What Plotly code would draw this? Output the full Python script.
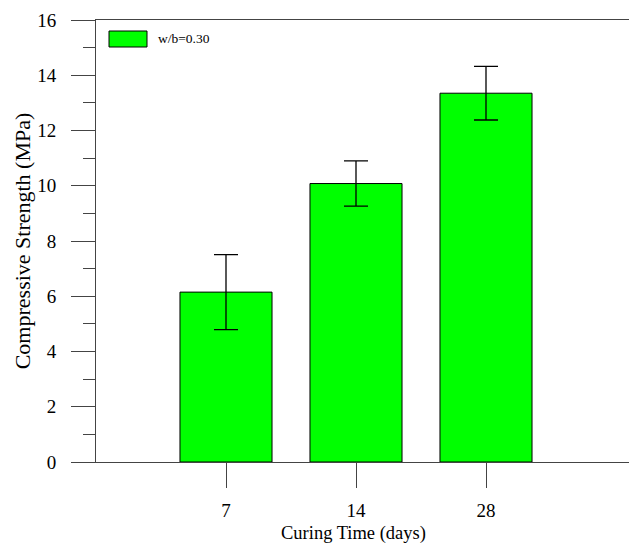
import plotly.graph_objects as go

categories = ["7", "14", "28"]
strength = [6.15, 10.08, 13.35]
err = [1.36, 0.82, 0.97]
series_name = "w/b=0.30"
x_title = "Curing Time (days)"
y_title = "Compressive Strength (MPa)"
y_ticks = [0, 2, 4, 6, 8, 10, 12, 14, 16]

xpos = [1, 2, 3]

fig = go.Figure()
fig.add_trace(go.Bar(
    x=xpos, y=strength, name=series_name, showlegend=False,
    marker=dict(color="#00FF00", line=dict(color="#000000", width=1)),
    error_y=dict(type="data", array=err, visible=True, color="#000000",
                 thickness=1.3, width=12),
))

font = "Liberation Serif, Times New Roman, serif"
fig.update_layout(
    width=629, height=536,
    margin=dict(l=88, r=0, t=12, b=82),
    plot_bgcolor="white", paper_bgcolor="white",
    font=dict(family=font, size=16, color="#000000"),
    bargap=0.292,
    xaxis=dict(
        range=[0, 541 / 130], tickmode="array", tickvals=xpos, ticktext=categories,
        ticks="outside", ticklen=25, tickcolor="#444", tickwidth=1,
        showline=True, linecolor="#444", linewidth=1, mirror=True,
        showgrid=False, zeroline=False, ticklabelstandoff=6,
        tickfont=dict(size=19),
    ),
    yaxis=dict(
        range=[0, 16], tickmode="array", tickvals=y_ticks,
        ticks="outside", ticklen=24, tickcolor="#444", tickwidth=1,
        minor=dict(tickmode="array", tickvals=[1, 3, 5, 7, 9, 11, 13, 15],
                   ticks="outside", ticklen=12, tickcolor="#444", tickwidth=1),
        showline=True, linecolor="#444", linewidth=1,
        showgrid=False, zeroline=False, ticklabelstandoff=11,
        title=dict(text=y_title, standoff=0, font=dict(size=22)),
        tickfont=dict(size=19),
    ),
    shapes=[dict(type="rect", xref="paper", yref="paper",
                 x0=13 / 541, x1=51 / 541, y0=1 - 27 / 442, y1=1 - 11 / 442,
                 fillcolor="#00FF00", line=dict(color="#000000", width=1))],
    annotations=[
        dict(text=series_name, xref="paper", yref="paper",
             x=60 / 541, y=1 - 19 / 442, xanchor="left", yanchor="middle",
             showarrow=False, font=dict(size=13.5, family=font)),
        dict(text=x_title, xref="paper", yref="paper",
             x=257.5 / 541, y=-71 / 442, xanchor="center", yanchor="middle",
             showarrow=False, font=dict(size=18.5, family=font)),
    ],
)

fig.write_html("out.html")
